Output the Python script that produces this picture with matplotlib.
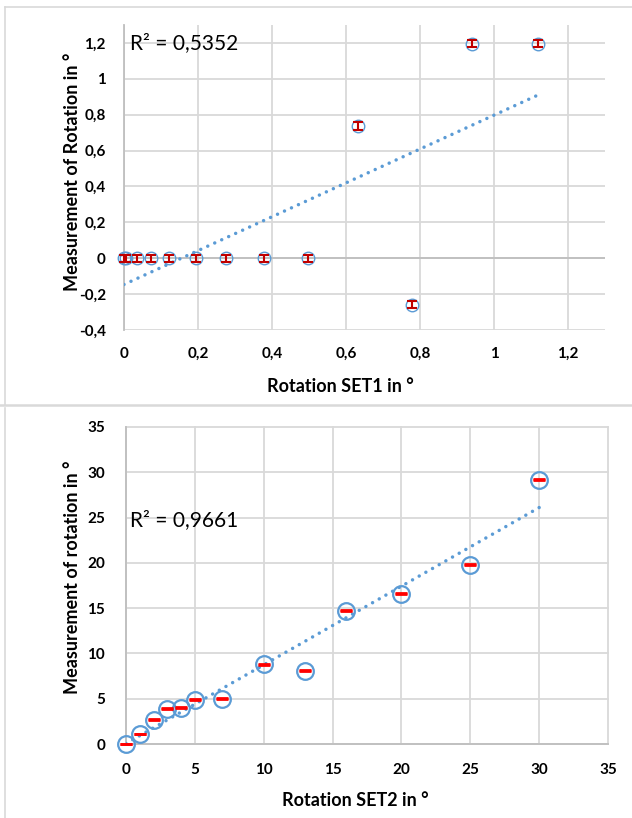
import numpy as np
import matplotlib
matplotlib.use('Agg')
import matplotlib.pyplot as plt
from matplotlib.ticker import MultipleLocator, FuncFormatter
from matplotlib.lines import Line2D

# SET1 (top chart)
set1_x = [0, 0.005, 0.034, 0.072, 0.122, 0.195, 0.277, 0.379, 0.498, 0.632, 0.778, 0.941, 1.12]
set1_y = [0, 0, 0, 0, 0, 0, 0, 0, 0, 0.737, -0.26, 1.195, 1.195]
set1_err = 0.02
set1_r2 = 'R² = 0,5352'

# SET2 (bottom chart)
set2_x = [0, 1, 2, 3, 4, 5, 7, 10, 13, 16, 20, 25, 30]
set2_y = [0, 1.1, 2.7, 3.9, 4.0, 4.9, 5.0, 8.8, 8.1, 14.7, 16.6, 19.8, 29.2]
set2_err = 0.05
set2_r2 = 'R² = 0,9661'

BLUE = '#5B9BD5'
GRID = '#D9D9D9'
AXIS = '#BFBFBF'
TXT = '#000000'

plt.rcParams['font.family'] = ['Lato', 'DejaVu Sans']

W, H = 632, 818
fig = plt.figure(figsize=(W / 100, H / 100), dpi=100)


def fline(xs, ys, lw=1.2):
    # line in pixel coords (origin top-left) drawn on the figure
    fig.lines.append(Line2D([x / W for x in xs], [1 - y / H for y in ys],
                            transform=fig.transFigure, color=GRID, linewidth=lw))


# chart panel borders (no right edge visible)
fline([5, W + 5], [7, 7])
fline([5, 5], [7, 405])
fline([0, W + 5], [405.5, 405.5], lw=1.8)
fline([5, 5], [408, H + 5])

comma = FuncFormatter(lambda v, p: f'{v:g}'.replace('.', ','))


def style(ax, xstep, ystep, xpad, ypad):
    ax.xaxis.set_major_locator(MultipleLocator(xstep))
    ax.yaxis.set_major_locator(MultipleLocator(ystep))
    ax.xaxis.set_major_formatter(comma)
    ax.yaxis.set_major_formatter(comma)
    ax.grid(True, color=GRID, linewidth=1.3)
    ax.set_axisbelow(True)
    ax.tick_params(length=0, labelsize=11, colors=TXT)
    ax.tick_params(axis='x', pad=xpad)
    ax.tick_params(axis='y', pad=ypad)
    for lab in ax.get_xticklabels() + ax.get_yticklabels():
        lab.set_fontweight('bold')
    for s in ['top', 'right']:
        ax.spines[s].set_visible(False)
    ax.spines['left'].set_color(AXIS)
    ax.spines['left'].set_linewidth(1.3)


def trend(ax, x, y):
    k, b = np.polyfit(x, y, 1)
    xs = np.array([min(x), max(x)])
    ax.plot(xs, k * xs + b, color=BLUE, linewidth=2.5, linestyle=(0, (0.01, 2.2)),
            dash_capstyle='round', zorder=3)


# ---- top chart
ax1 = fig.add_axes([124 / W, 1 - 330 / H, (605 - 124) / W, (330 - 25) / H])
ax1.set_xlim(0, 1.3)
ax1.set_ylim(-0.4, 1.3)
style(ax1, 0.2, 0.2, 12, 13)
ax1.spines['bottom'].set_visible(False)
ax1.axhline(0, color=AXIS, linewidth=1.3, zorder=1)
trend(ax1, set1_x, set1_y)
ax1.plot(set1_x, set1_y, 'o', markersize=9, markerfacecolor='none',
         markeredgecolor=BLUE, markeredgewidth=1.0, zorder=4, clip_on=False)
ax1.errorbar(set1_x, set1_y, yerr=set1_err, fmt='none', ecolor='#C00000',
             elinewidth=1.5, capsize=3.5, capthick=1.5, zorder=5, clip_on=False)
ax1.text(0.0125, 0.941, set1_r2, transform=ax1.transAxes, fontsize=15,
         va='center', ha='left', color=TXT)
fig.text(340 / W, 1 - 387 / H, 'Rotation SET1 in °', ha='center', va='center',
         fontsize=13, fontweight='bold')
fig.text(73 / W, 1 - 172 / H, 'Measurement of Rotation in °', ha='center', va='center',
         rotation=90, fontsize=13, fontweight='bold')

# ---- bottom chart
ax2 = fig.add_axes([126 / W, 1 - 744 / H, (608 - 126) / W, (744 - 427) / H])
ax2.set_xlim(0, 35)
ax2.set_ylim(0, 35)
style(ax2, 5, 5, 14, 15)
ax2.spines['bottom'].set_color(AXIS)
ax2.spines['bottom'].set_linewidth(1.3)
for gl in ax2.get_xgridlines() + ax2.get_ygridlines():
    gl.set_clip_on(False)
trend(ax2, set2_x, set2_y)
ax2.plot(set2_x, set2_y, 'o', markersize=12, markerfacecolor='none',
         markeredgecolor=BLUE, markeredgewidth=1.6, zorder=4, clip_on=False)
ax2.errorbar(set2_x, set2_y, yerr=set2_err, fmt='none', ecolor='#FF0000',
             elinewidth=1.5, capsize=4.5, capthick=2.0, zorder=5, clip_on=False)
ax2.text(0.008, 0.706, set2_r2, transform=ax2.transAxes, fontsize=15,
         va='center', ha='left', color=TXT)
fig.text(355 / W, 1 - 800 / H, 'Rotation SET2 in °', ha='center', va='center',
         fontsize=13, fontweight='bold')
fig.text(73 / W, 1 - 577 / H, 'Measurement of rotation in °', ha='center', va='center',
         rotation=90, fontsize=13, fontweight='bold')

fig.savefig('out.png', dpi=100)
